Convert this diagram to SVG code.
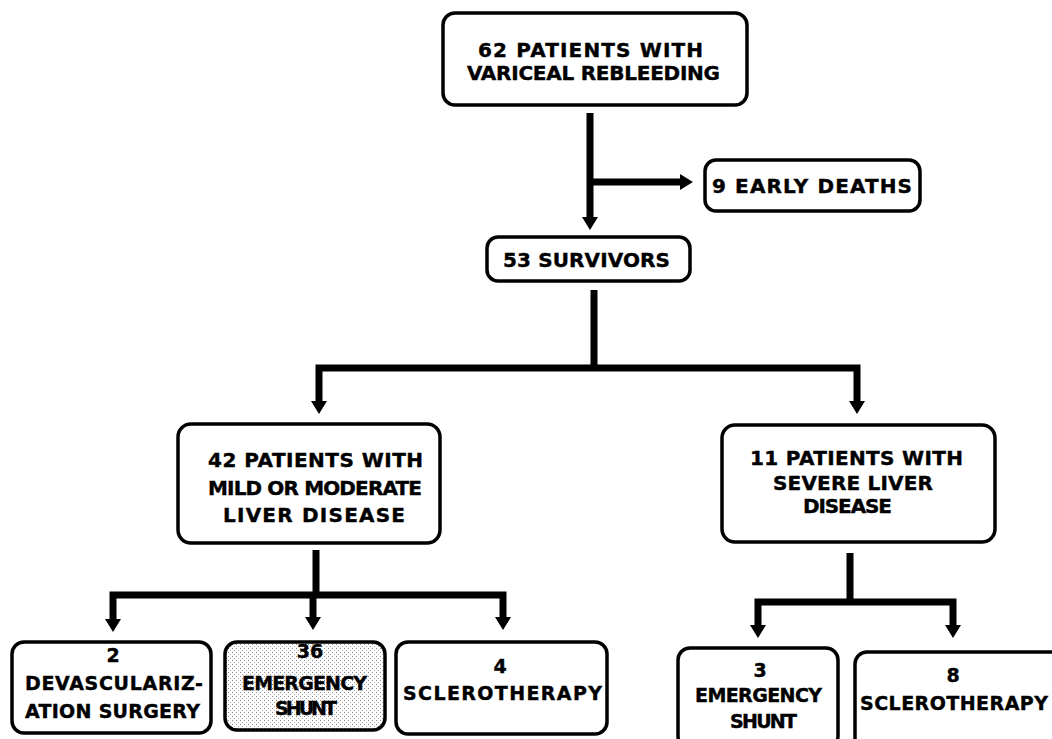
<svg xmlns="http://www.w3.org/2000/svg" width="1052" height="739" viewBox="0 0 1052 739">
<style>
.box{fill:#fff;stroke:#000;stroke-width:3.5}
.dot{fill:url(#stip);stroke:#000;stroke-width:3.5}
.t{font-family:"DejaVu Sans","Liberation Sans",Arial,sans-serif;font-weight:bold;font-size:20px;fill:#000;stroke:#000;stroke-width:0.4}
.s{font-size:19px}
.m{text-anchor:middle}
.c{fill:none;stroke:#000;stroke-width:7;stroke-linejoin:miter;stroke-linecap:butt}
.a{marker-end:url(#ah)}
.b{marker-start:url(#ah);marker-end:url(#ah)}
</style>
<defs>
<marker id="ah" viewBox="0 -8 13 16" refX="0" refY="0" markerWidth="13" markerHeight="16" markerUnits="userSpaceOnUse" orient="auto-start-reverse">
<path d="M0,-8 L13,0 L0,8 z" fill="#000"/>
</marker>
<pattern id="stip" width="4" height="4" patternUnits="userSpaceOnUse">
<rect width="4" height="4" fill="#fff"/>
<rect x="0" y="0" width="1" height="1" fill="#888"/>
<rect x="2" y="2" width="1" height="1" fill="#aaa"/>
</pattern>
</defs>
<g id="connectors">
<path class="c a" d="M590,113 V217"/>
<path class="c a" d="M590,182 H680"/>
<path class="c" d="M594,290 V368"/>
<path class="c b" d="M319,401 V368 H857 V401"/>
<path class="c" d="M316,550 V595"/>
<path class="c b" d="M113,619 V595 H503 V617"/>
<path class="c a" d="M313,595 V617"/>
<path class="c" d="M850,553 V602"/>
<path class="c b" d="M758,625 V602 H953 V625"/>
</g>
<g id="n62">
<rect class="box" x="443" y="13" width="304" height="92" rx="12"/>
<text class="t" x="478" y="57" textLength="225">62 PATIENTS WITH</text>
<text class="t" x="467" y="80" textLength="253">VARICEAL REBLEEDING</text>
</g>
<g id="n9">
<rect class="box" x="705" y="160" width="215" height="51" rx="11"/>
<text class="t" x="712" y="193" textLength="200">9 EARLY DEATHS</text>
</g>
<g id="n53">
<rect class="box" x="487" y="237" width="203" height="44" rx="11"/>
<text class="t" x="503" y="267" textLength="167">53 SURVIVORS</text>
</g>
<g id="n42">
<rect class="box" x="178" y="424" width="262" height="119" rx="13"/>
<text class="t" x="208" y="467" textLength="215">42 PATIENTS WITH</text>
<text class="t" x="208" y="495" textLength="214">MILD OR MODERATE</text>
<text class="t" x="223" y="522" textLength="182">LIVER DISEASE</text>
</g>
<g id="n11">
<rect class="box" x="722" y="425" width="273" height="117" rx="13"/>
<text class="t" x="750" y="465" textLength="213">11 PATIENTS WITH</text>
<text class="t" x="773" y="490" textLength="160">SEVERE LIVER</text>
<text class="t" x="803" y="513" textLength="89">DISEASE</text>
</g>
<g id="n2">
<rect class="box" x="12" y="642" width="199" height="91" rx="12"/>
<text class="t s m" x="113" y="662">2</text>
<text class="t s" x="25" y="690" textLength="178">DEVASCULARIZ-</text>
<text class="t s" x="25" y="718" textLength="175">ATION SURGERY</text>
</g>
<g id="n36">
<rect class="dot" x="225" y="642" width="160" height="88" rx="12"/>
<text class="t s m" x="310" y="658">36</text>
<text class="t s" x="242" y="690" textLength="125">EMERGENCY</text>
<text class="t s" x="275" y="715" textLength="62">SHUNT</text>
</g>
<g id="n4">
<rect class="box" x="396" y="642" width="211" height="92" rx="12"/>
<text class="t s m" x="500" y="673">4</text>
<text class="t s" x="403" y="700" textLength="199">SCLEROTHERAPY</text>
</g>
<g id="n3">
<rect class="box" x="678" y="648" width="160" height="100" rx="12"/>
<text class="t s m" x="760" y="677">3</text>
<text class="t s" x="695" y="702" textLength="127">EMERGENCY</text>
<text class="t s" x="730" y="728" textLength="67">SHUNT</text>
</g>
<g id="n8">
<rect class="box" x="855" y="652" width="210" height="100" rx="12"/>
<text class="t s m" x="953" y="682">8</text>
<text class="t s" x="860" y="710" textLength="188">SCLEROTHERAPY</text>
</g>
</svg>
